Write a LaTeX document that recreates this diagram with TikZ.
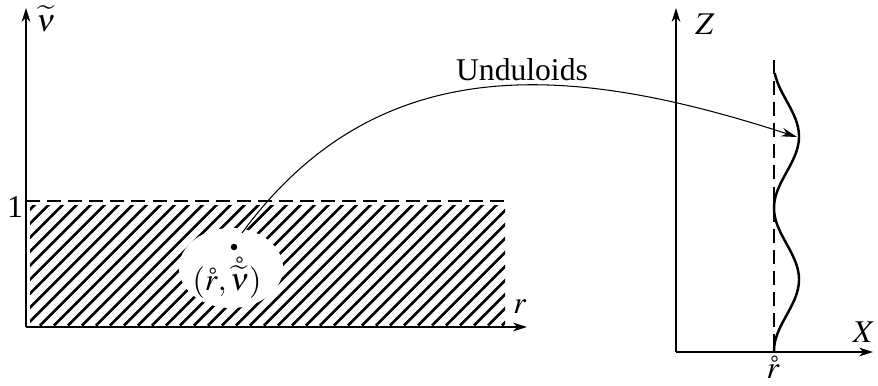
\documentclass[tikz,border=0pt]{standalone}
\usepackage{mathptmx}
\usepackage{fontspec}
\setmainfont{Liberation Serif}
\usetikzlibrary{arrows.meta}

\begin{document}
\begin{tikzpicture}[font=\fontsize{18}{21}\selectfont,
    axis/.style={line width=0.8pt, -{Stealth[length=8pt,width=5pt]}},
    hatch/.style={line width=1.5pt},
    guide/.style={line width=0.7pt, dash pattern=on 8pt off 4pt},
    lbl/.style={inner sep=1pt}]
\useasboundingbox (0,0) rectangle (17.56,7.7);
% (r, nu) plane
\coordinate (O1) at (0.52,1.16);
\coordinate (nutop) at (0.52,7.54);
\coordinate (rend) at (10.54,1.16);
\coordinate (one) at (0.52,3.68);
\coordinate (oneend) at (10.16,3.68);
\begin{scope}
  \clip (0.6,1.19) rectangle (10.1,3.6);
  \foreach \s in {-2.0,-1.72,...,10.2}
    \draw[hatch] (\s,1.19) -- ++(2.5,2.5);
\end{scope}
\fill[white] (4.62,2.34) ellipse [x radius=1.04, y radius=0.8];
\draw[axis] (O1) -- (nutop);
\draw[axis] (O1) -- (rend);
\draw[guide] (one) -- (oneend);
\node[lbl] (nulabel) at (0.92,7.32) {$\widetilde{\nu}$};
\node[lbl] (rlabel) at (10.4,1.56) {$r$};
\node[lbl] (onelabel) at (0.3,3.56) {1};
\node[circle, fill, inner sep=1.3pt] (pt) at (4.68,2.76) {};
\node[lbl] (ptlabel) at (4.54,2.14) {$(\mathring{r},\mathring{\widetilde{\nu}})$};
% (X, Z) plane
\coordinate (O2) at (13.52,0.66);
\coordinate (ztop) at (13.52,7.54);
\coordinate (xend) at (17.46,0.66);
\coordinate (axtop) at (15.48,6.5);
\coordinate (axbot) at (15.48,0.66);
\draw[axis] (O2) -- (ztop);
\draw[axis] (O2) -- (xend);
\draw[guide] (axtop) -- (axbot);
\draw[line width=1.4pt] plot[domain=0.68:6.24, samples=100, smooth, variable=\t]
  ({15.73-0.25*cos(deg(2*pi*(\t-0.68)/2.86))}, \t);
\node[lbl] (zlabel) at (14.1,7.22) {$Z$};
\node[lbl] (xlabel) at (17.28,1.06) {$X$};
\node[lbl] (r0label) at (15.46,0.36) {$\mathring{r}$};
% map
\coordinate (tail) at (4.84,3.04);
\coordinate (bulge) at (15.94,4.96);
\draw[line width=0.6pt, -{Stealth[length=9pt,width=5pt]}]
  (tail) .. controls (7.6,6.8) and (11.5,6.4) .. (bulge);
\node[lbl] (maplabel) at (10.44,6.3) {Unduloids};
\end{tikzpicture}
\end{document}
